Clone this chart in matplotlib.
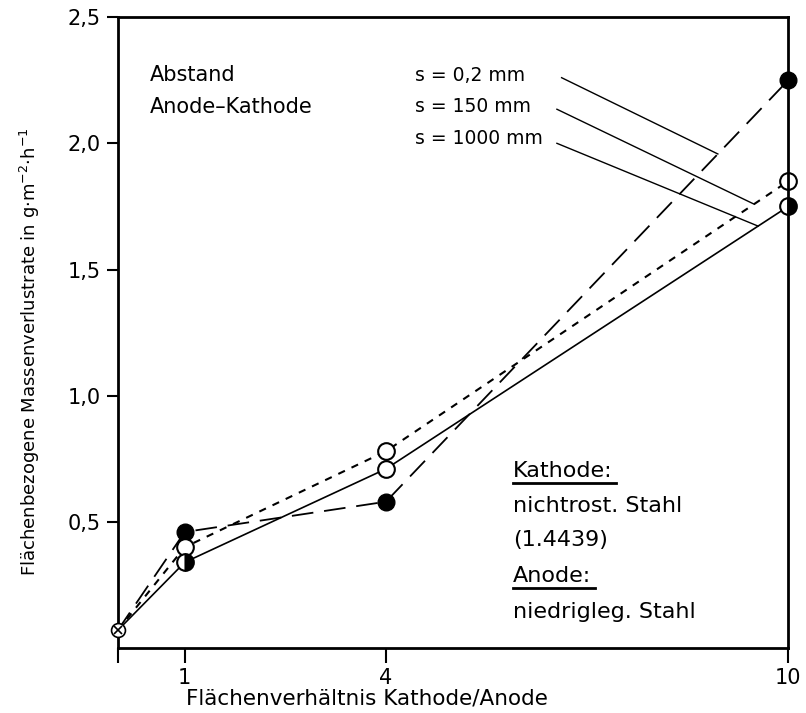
import numpy as np
import matplotlib.pyplot as plt
from matplotlib.lines import Line2D

# Flächenverhältnis Kathode/Anode
ratio = [0, 1, 4, 10]
# Massenverlustrate in g m^-2 h^-1 for the three distances
s_02 = [0.07, 0.46, 0.58, 2.25]
s_150 = [0.07, 0.40, 0.78, 1.85]
s_1000 = [0.07, 0.34, 0.71, 1.75]

series_names = ['s = 0,2 mm', 's = 150 mm', 's = 1000 mm']
leader_x = [8.95, 9.49, 9.55]

x_ticks = [0, 1, 4, 10]
x_ticklabels = ['', '1', '4', '10']
y_ticks = [0.5, 1.0, 1.5, 2.0, 2.5]
y_ticklabels = ['0,5', '1,0', '1,5', '2,0', '2,5']

fig = plt.figure(figsize=(8.06, 7.13), dpi=100)
ax = fig.add_axes([0.146, 0.091, 0.832, 0.885])

# lines + markers (not clipped so the markers on x=10 stay whole)
ax.plot(ratio, s_02, color='black', lw=1.3, dashes=(12, 6), clip_on=False,
        marker='o', ms=12, mfc='black', mec='black', markevery=[1, 2, 3])
ax.plot(ratio, s_150, color='black', lw=1.5, dashes=(3.5, 3.5), clip_on=False,
        marker='o', ms=12, mfc='white', mec='black', mew=1.5, markevery=[1, 2, 3])
ax.plot(ratio, s_1000, color='black', lw=1.2, ls='-', clip_on=False,
        marker='o', ms=12, mfc='black', mfcalt='white', fillstyle='right',
        mec='black', mew=1.5, markevery=[1, 3])
# point at 4 for 1000 mm drawn open as in the figure
ax.plot(ratio[2], s_1000[2], marker='o', ms=12, mfc='white', mec='black', mew=1.5)
# common starting point
ax.plot(ratio[0], s_02[0], marker='o', ms=10, mfc='white', mec='black', mew=1.2, clip_on=False, zorder=5)
ax.plot(ratio[0], s_02[0], marker='x', ms=6, color='black', mew=1.2, clip_on=False, zorder=6)

ax.set_xlim(0, 10)
ax.set_ylim(0, 2.5)
ax.set_xticks(x_ticks)
ax.set_xticklabels(x_ticklabels)
ax.set_yticks(y_ticks)
ax.set_yticklabels(y_ticklabels)
ax.tick_params(axis='both', direction='out', length=8, width=1.5, labelsize=15, pad=4)
ax.tick_params(axis='x', length=11, pad=3)
for sp in ax.spines.values():
    sp.set_linewidth(2)

ax.set_ylabel('Flächenbezogene Massenverlustrate in g$\\cdot$m$^{-2}$$\\cdot$h$^{-1}$', fontsize=13)
ax.yaxis.set_label_coords(-0.113, 0.47)
ax.text(0.372, -0.08, 'Flächenverhältnis Kathode/Anode', transform=ax.transAxes,
        fontsize=15.5, ha='center', va='center')

# distance labels with leader lines
ax.text(0.48, 2.27, 'Abstand', fontsize=15, va='center')
ax.text(0.48, 2.145, 'Anode\u2013Kathode', fontsize=15, va='center')
label_y = [2.27, 2.145, 2.02]
lead_start = [(6.62, 2.26), (6.55, 2.135), (6.55, 2.0)]
for name, ly, st, lx, ys in zip(series_names, label_y, lead_start, leader_x, [s_02, s_150, s_1000]):
    ax.text(4.44, ly, name, fontsize=13.5, va='center')
    ax.plot([st[0], lx], [st[1], np.interp(lx, ratio, ys)], color='black', lw=1.0)

# material notes
notes = [('Kathode:', 0.70, True), ('nichtrost. Stahl', 0.565, False), ('(1.4439)', 0.43, False),
         ('Anode:', 0.285, True), ('niedrigleg. Stahl', 0.145, False)]
txts = []
for s, yy, ul in notes:
    t = ax.text(5.89, yy, s, fontsize=16, va='center')
    txts.append((t, ul))

fig.canvas.draw()
r = fig.canvas.get_renderer()
inv = ax.transData.inverted()
for t, ul in txts:
    if ul:
        bb = t.get_window_extent(r)
        (x0, y0), (x1, y1) = inv.transform([[bb.x0, bb.y0 - 2], [bb.x1 + 4, bb.y0 - 2]])
        ax.add_line(Line2D([x0, x1], [y0, y1], color='black', lw=2))

fig.savefig('out.png', dpi=100)
